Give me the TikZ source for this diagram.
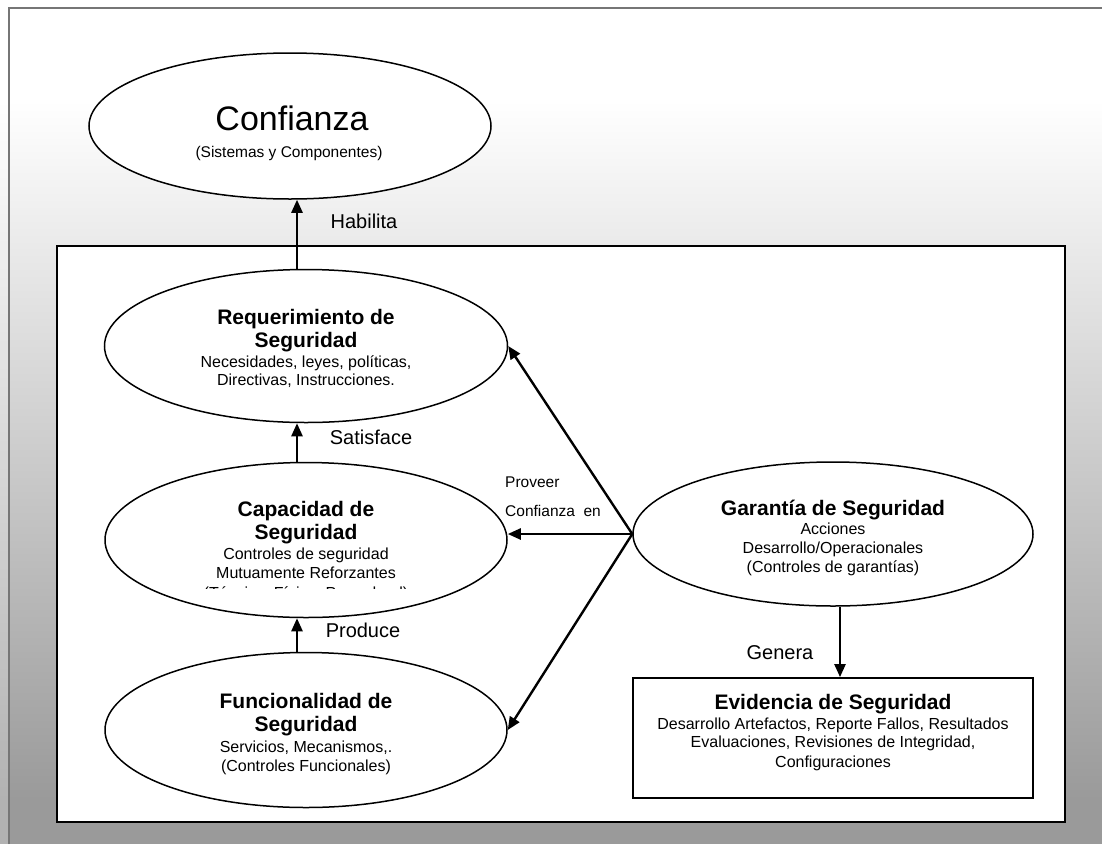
\documentclass[tikz,border=0pt]{standalone}
\usepackage{fontspec}
\setmainfont{Liberation Sans}
\usetikzlibrary{shapes.geometric,arrows.meta,calc}
\definecolor{bggray}{RGB}{154,154,154}
\definecolor{stripgray}{RGB}{178,178,178}
\definecolor{framegray}{RGB}{118,118,118}
\tikzset{
  ell/.style={draw=black, line width=1.5pt, ellipse, fill=white, inner sep=0pt},
  arr/.style={line width=2.4pt, -{Triangle[length=13pt,width=11pt]}},
  ttl/.style={font=\bfseries\fontsize{21}{23}\selectfont, anchor=base, inner sep=0pt},
  dsc/.style={font=\fontsize{16}{19}\selectfont, anchor=base, inner sep=0pt},
  lbl/.style={font=\fontsize{20}{22}\selectfont, anchor=base, inner sep=0pt},
  sml/.style={font=\fontsize{15.5}{18}\selectfont, anchor=base west, inner sep=0pt},
}
\begin{document}
\begin{tikzpicture}[x=1pt,y=-1pt]
\useasboundingbox (0,0) rectangle (1102,844);
% background
\fill[white] (0,0) rectangle (1102,844);
\shade[top color=white, bottom color=bggray] (0,100) rectangle (1102,800);
\fill[bggray] (0,800) rectangle (1102,844);
\shade[top color=white, bottom color=stripgray] (0,100) rectangle (8,800);
\fill[stripgray] (0,800) rectangle (8,844);
\draw[framegray, line width=2.5pt] (9,844) -- (9,8) -- (1102,8);
% inner panel
\draw[line width=2pt, fill=white] (57,246) rectangle (1065,822);
% helper coordinates for vertical connectors
\coordinate (hab) at (297,0);
\coordinate (gen) at (840,0);
% nodes
\node[ell, minimum width=402pt, minimum height=146pt] (conf) at (290,126) {};
\node[ell, minimum width=403pt, minimum height=153pt] (req) at (306,346) {};
\node[ell, minimum width=402pt, minimum height=155pt] (cap) at (306,540) {};
\node[ell, minimum width=402pt, minimum height=155pt] (fun) at (306,730) {};
\node[ell, minimum width=400pt, minimum height=144pt] (gar) at (833,534) {};
\node[draw=black, line width=1.8pt, fill=white, minimum width=400pt, minimum height=120pt, inner sep=0pt] (evid) at (833,738) {};
% Confianza texts
\node[font=\fontsize{34}{38}\selectfont, anchor=base, inner sep=0pt] (c1) at (292,130.5) {Confianza};
\node[font=\fontsize{15.5}{18}\selectfont, anchor=base, inner sep=0pt] (c2) at (289,157.5) {(Sistemas y Componentes)};
% Requerimiento
\node[ttl] (r1) at (306,324) {Requerimiento de};
\node[ttl] (r2) at (306,347) {Seguridad};
\node[dsc] (r3) at (306,367.5) {Necesidades, leyes, políticas,};
\node[dsc] (r4) at (306,385.5) {Directivas, Instrucciones.};
% Capacidad
\node[ttl] (k1) at (306,516) {Capacidad de};
\node[ttl] (k2) at (306,539) {Seguridad};
\node[dsc] (k3) at (306,559.5) {Controles de seguridad};
\node[dsc] (k4) at (306,578.5) {Mutuamente Reforzantes};
\begin{scope}
\clip (110,560) rectangle (500,588.5);
\node[dsc] (k5) at (306,598) {(Técnica, Física, Procedural)};
\end{scope}
% Funcionalidad
\node[ttl] (f1) at (306,708) {Funcionalidad de};
\node[ttl] (f2) at (306,731) {Seguridad};
\node[dsc] (f3) at (306,752.5) {Servicios, Mecanismos,.};
\node[dsc] (f4) at (306,771.5) {(Controles Funcionales)};
% Garantia
\node[ttl] (g1) at (833,515) {Garantía de Seguridad};
\node[dsc] (g2) at (833,534.5) {Acciones};
\node[dsc] (g3) at (833,553.5) {Desarrollo/Operacionales};
\node[dsc] (g4) at (833,572.5) {(Controles de garantías)};
% Evidencia
\node[ttl] (e1) at (833,709) {Evidencia de Seguridad};
\node[dsc] (e2) at (833,729.5) {Desarrollo Artefactos, Reporte Fallos, Resultados};
\node[dsc] (e3) at (833,747.5) {Evaluaciones, Revisiones de Integridad,};
\node[dsc] (e4) at (833,767.5) {Configuraciones};
% connectors
\draw[arr] (req.north -| hab) -- (conf.south -| hab);
\draw[arr] (cap.north -| hab) -- (req.south -| hab);
\draw[arr] (fun.north -| hab) -- (cap.south -| hab);
\draw[arr] (gar.west) -- (req.east);
\draw[arr] (gar.west) -- (gar.west -| cap.east);
\draw[arr] (gar.west) -- (fun.east);
\draw[arr] (gar.south -| gen) -- (evid.north -| gen);
% labels
\node[lbl] (lhab) at (364,228) {Habilita};
\node[lbl] (lsat) at (371,444) {Satisface};
\node[lbl] (lpro) at (363,637) {Produce};
\node[lbl] (lgen) at (780,659) {Genera};
\node[sml] (lpv1) at (505,487.5) {Proveer};
\node[sml] (lpv2) at (505,516.5) {Confianza\ \ en};
\end{tikzpicture}
\end{document}
